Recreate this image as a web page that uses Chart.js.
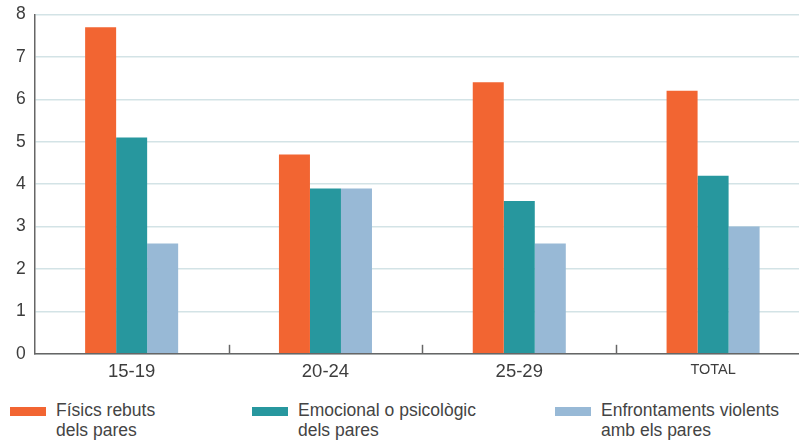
<!DOCTYPE html>
<html>
<head>
<meta charset="utf-8">
<script src="https://cdn.jsdelivr.net/npm/chart.js@4"></script>
<style>
  html, body { margin: 0; padding: 0; background: #fff; overflow: hidden; width: 799px; height: 441px; }
  #wrap { position: absolute; left: 0; top: -5px; width: 810px; height: 395px; }
  .legend { position: absolute; top: 400px; font-family: "Liberation Sans", Arial, sans-serif; font-size: 17.5px; line-height: 20px; color: #444; }
  .legend .sw { position: absolute; left: 0; top: 7px; width: 36px; height: 9px; }
  .legend .tx { position: absolute; left: 46px; top: 0; white-space: nowrap; }
</style>
</head>
<body>
<div id="wrap"><canvas id="chart"></canvas></div>
<div id="legend"></div>
<script>
// categories i valors (llegits de la imatge)
const categories = ["15-19", "20-24", "25-29", "TOTAL"];
const fisics = [7.7, 4.7, 6.4, 6.2];
const emocional = [5.1, 3.9, 3.6, 4.2];
const enfrontaments = [2.6, 3.9, 2.6, 3.0];
const yTicks = [0, 1, 2, 3, 4, 5, 6, 7, 8];

const series = [
    { label: ["Físics rebuts", "dels pares"], data: fisics, color: "#f26532" },
    { label: ["Emocional o psicològic", "dels pares"], data: emocional, color: "#27979e" },
    { label: ["Enfrontaments violents", "amb els pares"], data: enfrontaments, color: "#98b9d6" }
];

// marques curtes entre categories (cap amunt des de l'eix)
const catTicks = {
    id: "catTicks",
    afterDatasetsDraw(chart) {
        const x = chart.scales.x, y = chart.scales.y;
        const ctx = chart.ctx;
        const base = y.getPixelForValue(0);
        ctx.save();
        ctx.strokeStyle = "#666";
        ctx.lineWidth = 1.5;
        for (let i = 1; i < categories.length; i++) {
            const px = Math.round((x.getPixelForValue(i - 1) + x.getPixelForValue(i)) / 2) + 0.5;
            ctx.beginPath();
            ctx.moveTo(px, base);
            ctx.lineTo(px, base - 9);
            ctx.stroke();
        }
        ctx.restore();
    }
};

new Chart(document.getElementById("chart"), {
    type: "bar",
    data: {
        labels: categories,
        datasets: series.map(s => ({
            label: s.label.join(" "),
            data: s.data,
            backgroundColor: s.color,
            borderWidth: 0,
            barPercentage: 1,
            categoryPercentage: 0.48
        }))
    },
    options: {
        responsive: true,
        maintainAspectRatio: false,
        animation: false,
        layout: { padding: { left: 7, top: 0, right: 0, bottom: 0 } },
        plugins: { legend: { display: false }, tooltip: { enabled: false } },
        scales: {
            x: {
                grid: { display: false, drawTicks: false },
                border: { color: "#666", width: 1.5 },
                ticks: {
                    color: "#3d3d3d",
                    padding: 7,
                    font: c => ({ family: "'Liberation Sans', Arial, sans-serif", size: c.index === 3 ? 14.5 : 18.5 })
                }
            },
            y: {
                min: 0,
                max: 8,
                afterBuildTicks: s => { s.ticks = yTicks.map(v => ({ value: v })); },
                grid: { color: "#d3e3e6", lineWidth: 1.5, drawTicks: false },
                border: { color: "#666", width: 1.5 },
                ticks: {
                    color: "#3d3d3d",
                    padding: 9,
                    font: { family: "'Liberation Sans', Arial, sans-serif", size: 17.5 }
                }
            }
        }
    },
    plugins: [catTicks]
});

// llegenda a sota
const legendX = [10, 252, 555];
const legendEl = document.getElementById("legend");
series.forEach((s, i) => {
    const item = document.createElement("div");
    item.className = "legend";
    item.style.left = legendX[i] + "px";
    item.innerHTML = '<div class="sw" style="background:' + s.color + '"></div>' +
        '<div class="tx">' + s.label.join("<br>") + '</div>';
    legendEl.appendChild(item);
});
</script>
</body>
</html>
